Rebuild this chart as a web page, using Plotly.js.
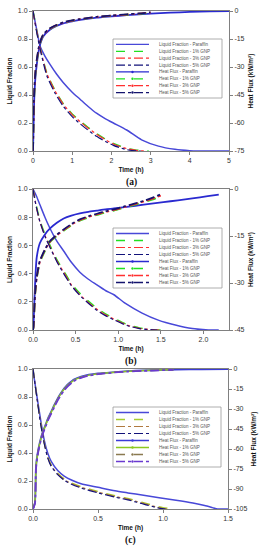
<!DOCTYPE html>
<html><head><meta charset="utf-8">
<script src="https://cdn.plot.ly/plotly-3.0.1.min.js"></script>
<style>html,body{margin:0;padding:0;background:#fff}#chart{width:263px;height:550px}</style>
</head><body><div id="chart"></div><script>
// ---------------- data ----------------
const seriesNames = ["Liquid Fraction - Paraffin","Liquid Fraction - 1% GNP","Liquid Fraction - 3% GNP","Liquid Fraction - 5% GNP",
  "Heat Flux - Paraffin","Heat Flux - 1% GNP","Heat Flux - 3% GNP","Heat Flux - 5% GNP"];
const panelLabels = ["(a)","(b)","(c)"];
const xTitle = "Time (h)";
const yLeftTitle = "Liquid Fraction";
const yRightTitle = "Heat Flux (kW/m²)";
const leftTicks = [0,0.2,0.4,0.6,0.8,1.0];
const rightTicksA = [0,-15,-30,-45,-60,-75];
const rightTicksB = [0,-15,-30,-45];
const rightTicksC = [0,-15,-30,-45,-60,-75,-90,-105];
const xTicksA = [0,1,2,3,4,5];
const xTicksB = [0,0.5,1.0,1.5,2.0];
const xTicksC = [0,0.5,1.0,1.5];

// Panel (a)
const a_lf_par_t = [0,0.05,0.1,0.18,0.3,0.43,0.6,0.77,1.0,1.2,1.4,1.62,1.85,2.05,2.39,2.77,3.2,3.62,4.0,4.2,4.6,5.0];
const a_lf_par   = [1.0,0.93,0.86,0.75,0.68,0.62,0.55,0.49,0.42,0.37,0.32,0.27,0.23,0.20,0.15,0.08,0.035,0.012,0.002,0,0,0];
const a_lf_1_t = [0,0.03,0.1,0.18,0.35,0.55,0.77,1.0,1.2,1.4,1.62,1.85,2.05,2.2,2.39,2.6,2.8,2.95];
const a_lf_1   = [1.0,0.96,0.85,0.74,0.56,0.44,0.34,0.265,0.215,0.17,0.125,0.085,0.055,0.038,0.02,0.008,0.002,0];
const a_lf_3_t = [0,0.03,0.1,0.18,0.35,0.55,0.77,1.0,1.2,1.4,1.62,1.85,2.05,2.2,2.39,2.6,2.75,2.9];
const a_lf_3   = [1.0,0.95,0.85,0.74,0.555,0.435,0.335,0.26,0.21,0.165,0.12,0.08,0.05,0.034,0.017,0.006,0.001,0];
const a_lf_5_t = [0,0.03,0.1,0.18,0.35,0.55,0.77,1.0,1.2,1.4,1.62,1.85,2.05,2.2,2.39,2.55,2.75];
const a_lf_5   = [1.0,0.95,0.84,0.73,0.54,0.42,0.32,0.245,0.195,0.15,0.105,0.068,0.04,0.025,0.01,0.003,0];
const a_hf_par_t = [0,0.01,0.03,0.06,0.094,0.14,0.18,0.26,0.43,0.6,0.77,1.0,1.2,1.62,2.0,2.39,3.0,3.5,4.0,4.5,5.0];
const a_hf_par   = [-75,-66,-48,-36,-29,-22,-18,-13.6,-10,-8,-6.6,-5.5,-4.8,-3.6,-2.9,-2.2,-1.4,-0.9,-0.5,-0.2,0];
const a_hf_g_t = [0,0.01,0.03,0.06,0.094,0.14,0.18,0.26,0.43,0.6,0.77,1.0,1.2,1.62,2.0,2.39,2.7,3.0];
const a_hf_1 = [-75,-64,-46,-34,-27.5,-21,-17.3,-13,-9.6,-7.7,-6.3,-5.2,-4.5,-3.3,-2.6,-2.0,-1.5,-0.9];
const a_hf_3 = [-75,-63,-45,-33.5,-27,-20.7,-17,-12.8,-9.5,-7.6,-6.2,-5.1,-4.4,-3.2,-2.5,-1.9,-1.4,-0.8];
const a_hf_5 = [-75,-62,-44,-33,-26.5,-20.3,-16.7,-12.6,-9.3,-7.5,-6.1,-5.0,-4.3,-3.1,-2.4,-1.8,-1.3,-0.7];

// Panel (b)
const b_lf_par_t = [0,0.04,0.08,0.14,0.2,0.28,0.36,0.45,0.55,0.65,0.75,0.85,0.95,1.08,1.28,1.47,1.67,1.87,2.06,2.18];
const b_lf_par   = [1.0,0.95,0.89,0.8,0.72,0.63,0.56,0.48,0.41,0.36,0.32,0.28,0.25,0.19,0.12,0.07,0.035,0.01,0,0];
const b_lf_1_t = [0,0.01,0.04,0.08,0.14,0.2,0.28,0.36,0.45,0.55,0.65,0.75,0.85,0.95,1.1,1.25,1.4,1.5];
const b_lf_1   = [1.0,0.97,0.88,0.78,0.68,0.6,0.5,0.42,0.33,0.26,0.205,0.155,0.115,0.083,0.04,0.015,0.003,0];
const b_lf_3_t = [0,0.01,0.04,0.08,0.14,0.2,0.28,0.36,0.45,0.55,0.65,0.75,0.85,0.95,1.1,1.25,1.4,1.48];
const b_lf_3   = [1.0,0.97,0.87,0.77,0.67,0.59,0.49,0.41,0.32,0.25,0.195,0.147,0.108,0.077,0.036,0.012,0.002,0];
const b_lf_5_t = [0,0.01,0.04,0.08,0.14,0.2,0.28,0.36,0.45,0.55,0.65,0.75,0.85,0.95,1.1,1.25,1.4,1.46];
const b_lf_5   = [1.0,0.96,0.87,0.77,0.665,0.585,0.485,0.4,0.315,0.245,0.19,0.14,0.102,0.072,0.032,0.01,0.001,0];
const b_hf_par_t = [0,0.006,0.012,0.024,0.043,0.08,0.14,0.2,0.28,0.36,0.45,0.55,0.65,0.75,0.85,0.95,1.1,1.3,1.53,1.7,1.87,2.05,2.18];
const b_hf_par   = [-45,-43,-39,-30.6,-22,-17.3,-14.5,-12.6,-10.8,-9.4,-8.5,-7.8,-7.3,-6.9,-6.5,-6.2,-5.7,-5.0,-4.2,-3.6,-3.0,-2.3,-1.8];
const b_hf_g_t = [0,0.006,0.012,0.024,0.043,0.08,0.14,0.2,0.28,0.36,0.45,0.55,0.65,0.75,0.85,0.95,1.08,1.2,1.32,1.42,1.5];
const b_hf_1 = [-45,-44,-41,-34,-28.8,-23.5,-19.8,-17,-15,-13.3,-11.6,-10.1,-9.1,-8.3,-7.5,-6.9,-5.9,-5.0,-4.1,-3.2,-2.5];
const b_hf_3 = [-45,-44,-41,-33.8,-28.5,-23.2,-19.5,-16.8,-14.8,-13.1,-11.4,-9.9,-8.9,-8.1,-7.3,-6.7,-5.7,-4.8,-3.8,-2.9,-2.1];
const b_hf_5 = [-45,-44,-40.5,-33.5,-28.2,-23,-19.3,-16.6,-14.6,-12.9,-11.2,-9.7,-8.7,-7.9,-7.1,-6.5,-5.5,-4.6,-3.6,-2.6,-1.7];

// Panel (c)
const c_lf_par_t = [0,0.01,0.036,0.06,0.087,0.113,0.14,0.19,0.24,0.3,0.37,0.5,0.63,0.73,0.85,0.97,1.1,1.23,1.32,1.38,1.42,1.5];
const c_lf_par   = [1.0,0.93,0.77,0.63,0.49,0.4,0.34,0.275,0.235,0.205,0.18,0.155,0.13,0.115,0.098,0.08,0.063,0.043,0.025,0.01,0,0];
const c_lf_1_t = [0,0.01,0.036,0.06,0.087,0.113,0.14,0.19,0.24,0.3,0.37,0.5,0.63,0.73,0.8,0.87,0.94,1.0,1.08];
const c_lf_1   = [1.0,0.93,0.76,0.61,0.47,0.375,0.315,0.255,0.215,0.185,0.16,0.125,0.095,0.075,0.058,0.04,0.022,0.01,0];
const c_lf_3_t = [0,0.01,0.036,0.06,0.087,0.113,0.14,0.19,0.24,0.3,0.37,0.5,0.63,0.73,0.8,0.87,0.94,0.99,1.04];
const c_lf_3   = [1.0,0.93,0.76,0.61,0.47,0.37,0.31,0.25,0.21,0.18,0.155,0.12,0.09,0.07,0.053,0.035,0.017,0.005,0];
const c_lf_5_t = [0,0.01,0.036,0.06,0.087,0.113,0.14,0.19,0.24,0.3,0.37,0.5,0.63,0.73,0.8,0.87,0.94,0.98,1.02];
const c_lf_5   = [1.0,0.93,0.755,0.6,0.465,0.365,0.305,0.245,0.205,0.175,0.15,0.115,0.085,0.065,0.048,0.03,0.013,0.004,0];
const c_hf_par_t = [0,0.015,0.023,0.036,0.055,0.074,0.1,0.113,0.14,0.164,0.19,0.215,0.24,0.267,0.3,0.318,0.37,0.43,0.5,0.63,0.73,0.85,0.97,1.1,1.3,1.5];
const c_hf_par   = [-105,-100,-73,-63,-54,-47.5,-41,-37.5,-32,-27,-22,-18,-14.5,-11.5,-9,-7.8,-5.8,-4.3,-3.3,-2.3,-1.6,-1.1,-0.8,-0.5,-0.2,0];
const c_hf_g_t = [0,0.015,0.023,0.036,0.055,0.074,0.1,0.113,0.14,0.164,0.19,0.215,0.24,0.267,0.3,0.318,0.37,0.43,0.5,0.63,0.73,0.85,0.97,1.08];
const c_hf_1 = [-105,-100,-74,-63.5,-54.5,-48,-41.5,-38,-32.5,-27.5,-22.5,-18.5,-15,-12,-9.5,-8.2,-6.1,-4.6,-3.5,-2.4,-1.7,-1.2,-0.8,-0.5];
const c_hf_3 = [-105,-100,-74,-64,-55,-48.5,-42,-38.5,-33,-28,-23,-19,-15.5,-12.5,-9.8,-8.4,-6.3,-4.7,-3.6,-2.5,-1.8,-1.3,-0.9,-0.6];
const c_hf_5 = [-105,-101,-75,-64.5,-55.5,-49,-42.5,-39,-33.5,-28.5,-23.5,-19.5,-16,-13,-10.2,-8.8,-6.6,-5.0,-3.8,-2.6,-1.9,-1.4,-1.0,-0.6];

// ---------------- styles ----------------
const stylesAB = [
  {color:'#4848d8', dash:'solid', width:1.5, marker:false},
  {color:'#22e022', dash:'dash', width:1.4, marker:false},
  {color:'#ff3030', dash:'dashdot', width:1.2, marker:false},
  {color:'#12127a', dash:'dashdot', width:1.2, marker:false},
  {color:'#2a2ad0', dash:'solid', width:1.8, marker:true},
  {color:'#22e022', dash:'dash', width:1.8, marker:true},
  {color:'#ff3030', dash:'dashdot', width:1.8, marker:true},
  {color:'#14146e', dash:'dashdot', width:1.8, marker:true}
];
const stylesC = [
  {color:'#4848d8', dash:'solid', width:1.5, marker:false},
  {color:'#a8cc30', dash:'dash', width:1.4, marker:false},
  {color:'#b07a40', dash:'dashdot', width:1.2, marker:false},
  {color:'#12127a', dash:'dashdot', width:1.2, marker:false},
  {color:'#3a3ad8', dash:'solid', width:1.8, marker:true},
  {color:'#8cc820', dash:'solid', width:1.5, marker:true},
  {color:'#8a7a50', dash:'dash', width:1.5, marker:true},
  {color:'#6a3ad0', dash:'dashdot', width:1.8, marker:true}
];

const W = 263, H = 550;
const px = x => x / W;
const py = y => 1 - y / H;

const panels = [
  {xa:'x', ya:'y', ya2:'y2', series:[[a_lf_par_t,a_lf_par],[a_lf_1_t,a_lf_1],[a_lf_3_t,a_lf_3],[a_lf_5_t,a_lf_5],
     [a_hf_par_t,a_hf_par],[a_hf_g_t,a_hf_1],[a_hf_g_t,a_hf_3],[a_hf_g_t,a_hf_5]], styles:stylesAB,
   top:11, bottom:151, left:33, right:229, leg:[113,39,222,98]},
  {xa:'x2', ya:'y3', ya2:'y4', series:[[b_lf_par_t,b_lf_par],[b_lf_1_t,b_lf_1],[b_lf_3_t,b_lf_3],[b_lf_5_t,b_lf_5],
     [b_hf_par_t,b_hf_par],[b_hf_g_t,b_hf_1],[b_hf_g_t,b_hf_3],[b_hf_g_t,b_hf_5]], styles:stylesAB,
   top:189, bottom:330, left:33, right:229, leg:[113,228,222,288]},
  {xa:'x3', ya:'y5', ya2:'y6', series:[[c_lf_par_t,c_lf_par],[c_lf_1_t,c_lf_1],[c_lf_3_t,c_lf_3],[c_lf_5_t,c_lf_5],
     [c_hf_par_t,c_hf_par],[c_hf_g_t,c_hf_1],[c_hf_g_t,c_hf_3],[c_hf_g_t,c_hf_5]], styles:stylesC,
   top:369, bottom:509, left:33, right:228, leg:[113,407,221,467]}
];

const traces = [];
panels.forEach(p => {
  p.series.forEach((s, i) => {
    const st = p.styles[i];
    traces.push({
      x: s[0], y: s[1], type:'scatter', mode:'lines', name: seriesNames[i],
      xaxis: p.xa, yaxis: i < 4 ? p.ya : p.ya2, showlegend:false, hoverinfo:'skip',
      line:{color:st.color, dash:st.dash, width:st.width, shape:'spline', smoothing:0.6}
    });
  });
});

const tickFont = {family:'Liberation Sans, Arial', size:7, color:'#333'};
const titleFont = {family:'Liberation Sans, Arial', size:6.5, color:'#111', weight:'bold'};
const axisBase = {showline:true, linecolor:'#808080', linewidth:1, ticks:'outside', ticklen:3, tickwidth:1,
  tickcolor:'#808080', tickfont:tickFont, showgrid:false, zeroline:false, fixedrange:true, automargin:false};

function xax(p, ticks, fmt, range, anchor) {
  return Object.assign({}, axisBase, {domain:[px(p.left), px(p.right)], anchor:anchor, range:range,
    tickvals:ticks, ticktext:ticks.map(v => fmt ? v.toFixed(1) : String(v)), mirror:true,
    title:{text:xTitle, font:titleFont, standoff:4}});
}
function yax(p, anchor) {
  return Object.assign({}, axisBase, {domain:[py(p.bottom), py(p.top)], anchor:anchor, range:[0,1],
    tickvals:leftTicks, ticktext:leftTicks.map(v => v.toFixed(1)),
    title:{text:yLeftTitle, font:titleFont, standoff:4}});
}
function yax2(overlay, anchor, ticks) {
  return Object.assign({}, axisBase, {overlaying:overlay, side:'right', anchor:anchor,
    range:[ticks[ticks.length-1], 0], tickvals:ticks, ticktext:ticks.map(v => String(v)),
    title:{text:yRightTitle, font:titleFont, standoff:4}});
}

const layout = {
  width:W, height:H, autosize:false, margin:{l:0,r:0,t:0,b:0},
  paper_bgcolor:'#fff', plot_bgcolor:'#fff', showlegend:false,
  xaxis: xax(panels[0], xTicksA, false, [0,5], 'y'),
  yaxis: yax(panels[0], 'x'),
  yaxis2: yax2('y','x', rightTicksA),
  xaxis2: xax(panels[1], xTicksB, true, [0,2.3], 'y3'),
  yaxis3: yax(panels[1], 'x2'),
  yaxis4: yax2('y3','x2', rightTicksB),
  xaxis3: xax(panels[2], xTicksC, true, [0,1.5], 'y5'),
  yaxis5: yax(panels[2], 'x3'),
  yaxis6: yax2('y5','x3', rightTicksC),
  shapes:[], annotations:[]
};

panels.forEach((p, k) => {
  const cx = (p.left + p.right) / 2;
  layout.annotations.push({xref:'paper', yref:'paper', x:px(cx), y:py(p.bottom + 31), text:panelLabels[k],
    showarrow:false, font:{family:'Liberation Serif, Times New Roman', size:9.5, color:'#111', weight:'bold'}, xanchor:'center', yanchor:'middle'});

  // legend box (drawn as shapes/annotations from the series styles)
  const [l, t, r, b] = p.leg;
  layout.shapes.push({type:'rect', xref:'paper', yref:'paper', x0:px(l), x1:px(r), y0:py(b), y1:py(t),
    line:{color:'#9a9a9a', width:0.8}, fillcolor:'#fff', layer:'above'});
  const step = (b - t - 4) / 8;
  p.styles.forEach((st, i) => {
    const yy = t + 2 + step * (i + 0.5);
    layout.shapes.push({type:'line', xref:'paper', yref:'paper', x0:px(l+3), x1:px(l+36), y0:py(yy), y1:py(yy),
      line:{color:st.color, dash:st.dash, width:Math.min(st.width, 1.3)}, layer:'above'});
    if (st.marker) {
      layout.shapes.push({type:'circle', xref:'paper', yref:'paper', x0:px(l+18.3), x1:px(l+20.7),
        y0:py(yy+1.2), y1:py(yy-1.2), line:{width:0}, fillcolor:st.color, layer:'above'});
    }
    layout.annotations.push({xref:'paper', yref:'paper', x:px(l+44), y:py(yy), text:seriesNames[i],
      showarrow:false, xanchor:'left', yanchor:'middle', font:{family:'Liberation Sans, Arial', size:4.5, color:'#555'}});
  });
});

Plotly.newPlot('chart', traces, layout, {staticPlot:true, displayModeBar:false});
</script></body></html>
